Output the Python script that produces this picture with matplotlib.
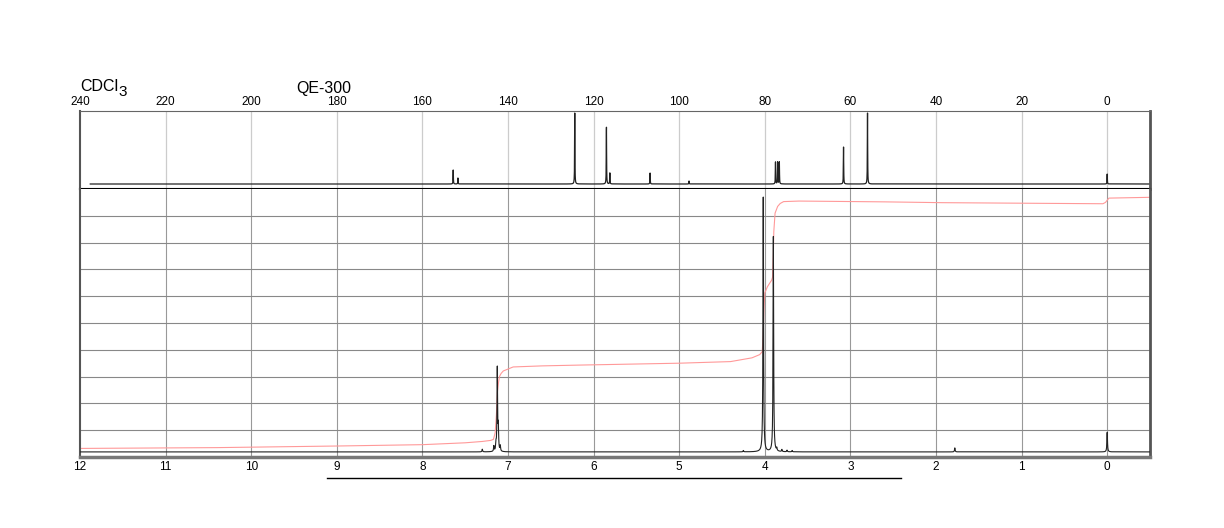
import numpy as np
import matplotlib
matplotlib.use('Agg')
import matplotlib.pyplot as plt

plt.rcParams['font.family'] = ['Liberation Sans', 'DejaVu Sans']

# 13C peaks: shift (ppm), height (relative)
c_shift = [152.8, 151.7, 124.4, 117.0, 116.2, 106.8, 97.7, 77.5, 77.0, 76.6, 61.6, 56.0, 0.0]
c_height = [14, 6, 71, 57, 11, 11, 3, 22, 22, 22, 37, 71, 10]
c_start = 237.6

# 1H peaks: shift (ppm), height (grid units)
h_shift = [7.30, 7.165, 7.14, 7.125, 7.113, 7.09, 4.25, 4.018, 3.90, 3.86, 3.80, 3.74, 3.68, 1.78, 0.0]
h_height = [0.1, 0.2, 0.25, 3.1, 0.85, 0.2, 0.05, 9.5, 8.03, 0.1, 0.08, 0.06, 0.05, 0.15, 0.73]

# integral trace: shift (ppm), level (grid units)
int_shift = [12.0, 10.4, 9.0, 8.0, 7.5, 7.3, 7.2, 7.17, 7.15, 7.135, 7.125, 7.11, 7.10, 7.08, 7.055,
             6.94, 6.6, 6.16, 5.0, 4.4, 4.15, 4.06, 4.03, 4.02, 4.01, 4.00, 3.97, 3.92, 3.91,
             3.90, 3.895, 3.88, 3.85, 3.82, 3.78, 3.6, 2.6, 1.93, 1.0, 0.05, 0.02, -0.02, -0.5]
int_level = [0.32, 0.35, 0.41, 0.46, 0.53, 0.58, 0.62, 0.66, 0.9, 1.6, 2.39, 2.8, 3.0, 3.12, 3.21,
             3.36, 3.40, 3.43, 3.5, 3.56, 3.7, 3.82, 3.93, 4.5, 5.5, 6.12, 6.35, 6.6, 6.7,
             7.6, 8.4, 9.1, 9.35, 9.46, 9.53, 9.55, 9.52, 9.49, 9.47, 9.45, 9.5, 9.66, 9.69]

c_ticks = list(range(240, -1, -20))
h_ticks = list(range(12, -1, -1))


def spectrum(x, shifts, heights, gamma):
    y = np.zeros_like(x)
    for s, h in zip(shifts, heights):
        y += h * gamma**2 / ((x - s)**2 + gamma**2)
    return y


fig = plt.figure(figsize=(12.24, 5.28), dpi=100)
left, width = 80 / 1224, 1070 / 1224
ax_c = fig.add_axes([left, (528 - 189) / 528, width, 78 / 528])
ax_h = fig.add_axes([left, (528 - 457) / 528, width, 268 / 528])

# 13C panel
xc = np.linspace(-10, c_start, 40000)
yc = spectrum(xc, c_shift, c_height, 0.04)
ax_c.plot(xc, yc, color='#222222', lw=0.9)
ax_c.set_xlim(240, -10)
ax_c.set_ylim(-5, 73)
for t in c_ticks[1:]:
    ax_c.axvline(t, color='#cccccc', lw=0.9, zorder=0)
ax_c.set_xticks(c_ticks)
ax_c.set_xticklabels([str(t) for t in c_ticks])
ax_c.xaxis.tick_top()
ax_c.tick_params(axis='x', length=0, pad=2, labelsize=8.5)
ax_c.set_yticks([])
ax_c.spines['top'].set_color('#666666')
ax_c.spines['left'].set_color('#555555')
ax_c.spines['left'].set_linewidth(1.5)
ax_c.spines['right'].set_color('#555555')
ax_c.spines['right'].set_linewidth(2)
ax_c.spines['bottom'].set_color('black')
ax_c.spines['bottom'].set_linewidth(1.5)

# 1H panel
xh = np.linspace(-0.5, 12, 60000)
yh = spectrum(xh, h_shift, h_height, 0.004) + 0.19
ax_h.plot(int_shift, int_level, color='#ff9999', lw=0.8, zorder=2)
ax_h.plot(xh, yh, color='#222222', lw=0.8, zorder=3)
ax_h.set_xlim(12, -0.5)
ax_h.set_ylim(0, 10)
for t in h_ticks[1:]:
    ax_h.axvline(t, color='#999999', lw=0.8, zorder=0)
for g in range(1, 10):
    ax_h.axhline(g, color='#888888', lw=0.8, zorder=0)
ax_h.set_xticks(h_ticks)
ax_h.set_xticklabels([str(t) for t in h_ticks])
ax_h.tick_params(axis='x', length=0, pad=3, labelsize=8.5)
ax_h.set_yticks([])
ax_h.spines['top'].set_visible(False)
ax_h.spines['left'].set_color('#555555')
ax_h.spines['left'].set_linewidth(1.5)
ax_h.spines['right'].set_color('#555555')
ax_h.spines['right'].set_linewidth(2)
ax_h.spines['bottom'].set_color('#777777')
ax_h.spines['bottom'].set_linewidth(2.5)

ax_h.plot([9.115, 2.41], [-0.078, -0.078], color='black', lw=1,
          transform=ax_h.get_xaxis_transform(), clip_on=False)

fig.text(80 / 1224, 1 - 91 / 528, 'CDCl', fontsize=11.5, va='baseline', ha='left')
fig.text(118 / 1224, 1 - 96 / 528, '3', fontsize=11, va='baseline', ha='left')
fig.text(296 / 1224, 1 - 93 / 528, 'QE-300', fontsize=11.5, va='baseline', ha='left')

fig.savefig('out.png', dpi=100)
